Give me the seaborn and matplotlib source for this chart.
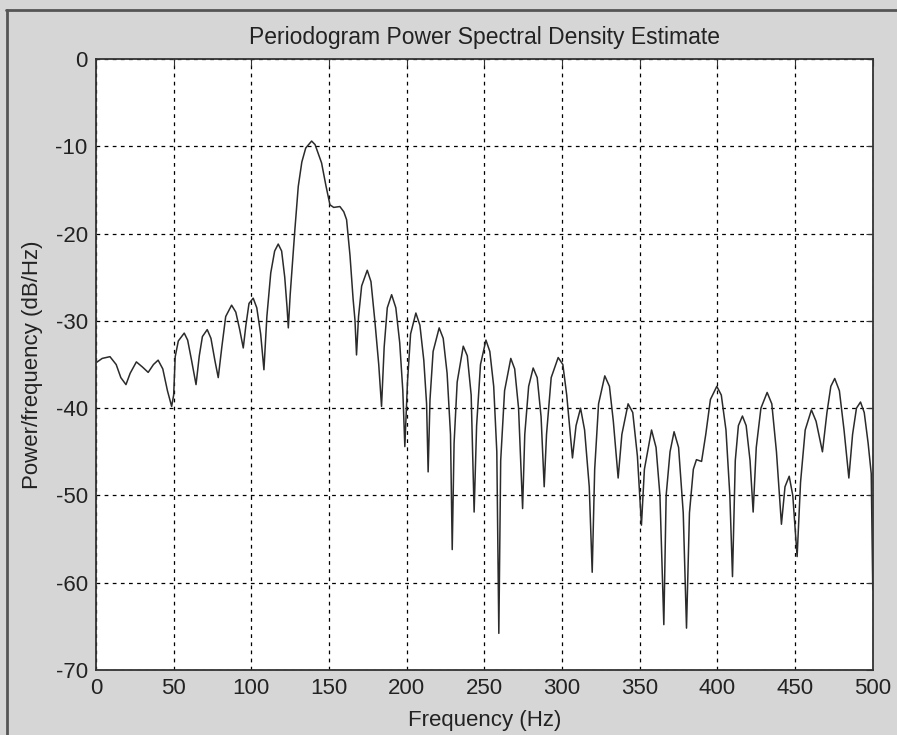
import matplotlib
matplotlib.use("Agg")
import matplotlib.pyplot as plt
import seaborn as sns
import pandas as pd
from matplotlib.lines import Line2D

# values
freq = [0, 4, 9, 13, 16, 19.3, 22, 26, 30, 33.6, 37, 40, 43, 46, 48.7, 50, 51, 53, 56.8, 59,
        61.5, 64.4, 66.5, 68.5, 71.6, 74, 76.5, 78.7, 81, 83.5, 87.3, 90, 92.5, 94.8, 96.5, 98.5,
        101.2, 103.5, 106, 108.1, 110, 112.5, 115, 117.3, 119.5, 121.5, 123, 123.8, 125, 127, 128,
        130.2, 132.5, 135, 138.8, 141, 143, 145.2, 148, 150.6, 153, 157, 159.5, 161.3, 163.5, 165.5,
        166.7, 167.7, 169, 171, 174.6, 177, 179.5, 182, 183.8, 185.5, 187.5, 190.3, 193, 195.5,
        197.5, 198.8, 200.5, 202.5, 205.9, 208.5, 211, 212.8, 213.8, 215, 217, 220.9, 223.5, 226,
        228.2, 229.3, 230.5, 232.5, 236.4, 239, 241.5, 243.4, 245, 247.5, 251, 253.5, 256, 258,
        259.3, 260.5, 263, 267, 269.5, 272, 274.6, 276, 278.5, 281.4, 284, 286.5, 288.5, 290, 293,
        297.5, 300.5, 303, 306.7, 309, 311.9, 314.5, 317.5, 319.4, 321, 323.5, 327.5, 330.5, 333,
        336.1, 338.5, 342.5, 345.5, 348.5, 351.1, 353, 357.6, 360.5, 363, 365.5, 367, 369.5, 372.1,
        375, 378, 380.1, 382, 384.5, 386.5, 389.8, 392.5, 395.5, 399.6, 402.5, 405.5, 408, 409.7,
        411.5, 413.5, 416.1, 418.5, 421, 423, 425, 428, 432, 435, 438, 441.2, 443.5, 446.2, 448.5,
        451.3, 453.5, 456.5, 460.5, 463.5, 467.6, 470.5, 473, 475.5, 478.5, 481.5, 484.6, 487,
        489.5, 492.1, 494.5, 497, 499, 500]
power_db = [-34.8, -34.3, -34.1, -35.0, -36.5, -37.3, -36.0, -34.7, -35.3, -35.9, -35.0, -34.5,
            -35.5, -38.0, -39.8, -38.5, -34.1, -32.3, -31.4, -32.2, -34.5, -37.3, -34.0, -31.8,
            -31.0, -32.0, -34.5, -36.5, -33.0, -29.5, -28.2, -29.0, -31.0, -33.1, -30.5, -28.0,
            -27.4, -28.5, -31.5, -35.6, -29.5, -24.5, -22.0, -21.2, -22.0, -25.0, -28.5, -30.8,
            -27.0, -22.0, -19.6, -14.6, -11.8, -10.2, -9.4, -9.8, -10.8, -11.9, -14.5, -16.7,
            -17.0, -16.9, -17.5, -18.4, -22.5, -27.5, -29.9, -33.9, -29.5, -26.0, -24.2, -25.5,
            -30.0, -35.0, -39.8, -33.0, -28.5, -27.0, -28.5, -32.5, -38.0, -44.4, -37.0, -31.5,
            -29.1, -30.5, -34.5, -39.5, -47.3, -39.0, -33.5, -30.8, -32.0, -36.0, -43.0, -56.2,
            -44.0, -37.0, -32.9, -34.0, -38.5, -51.9, -42.0, -35.0, -32.2, -33.5, -37.5, -45.0,
            -65.8, -46.0, -38.0, -34.3, -35.5, -40.0, -51.5, -43.0, -37.5, -35.4, -36.5, -41.0,
            -49.0, -43.0, -36.5, -34.2, -35.0, -38.5, -45.7, -42.0, -40.0, -42.5, -49.0, -58.8,
            -47.0, -39.5, -36.3, -37.5, -41.5, -48.0, -43.0, -39.5, -40.5, -45.5, -53.4, -47.0,
            -42.5, -44.5, -50.0, -64.8, -50.0, -45.0, -42.7, -44.5, -52.0, -65.2, -52.0, -47.0,
            -45.9, -46.1, -43.0, -39.0, -37.5, -38.5, -42.5, -50.0, -59.3, -46.0, -42.0, -40.9,
            -42.0, -46.0, -51.9, -44.5, -40.0, -38.2, -39.5, -45.0, -53.3, -49.0, -47.8, -50.0,
            -57.0, -48.5, -42.5, -40.2, -41.5, -45.0, -40.5, -37.5, -36.6, -38.0, -42.5, -48.0,
            -43.0, -40.0, -39.3, -40.5, -44.0, -47.5, -60.8]

x_ticks = [0, 50, 100, 150, 200, 250, 300, 350, 400, 450, 500]
y_ticks = [0, -10, -20, -30, -40, -50, -60, -70]

df = pd.DataFrame({"Frequency": freq, "Power": power_db})

sns.set_style("white")
plt.rcParams['font.family'] = ['Liberation Sans', 'DejaVu Sans']
plt.rcParams['axes.unicode_minus'] = False

bg = '#d6d6d6'
fig = plt.figure(figsize=(8.97, 7.35), dpi=100, facecolor=bg)
ax = fig.add_axes([0.107, 0.0884, 0.866, 0.8313])

sns.lineplot(data=df, x="Frequency", y="Power", ax=ax, color='#2b2b2b', lw=1.1, sort=False)

ax.set_xlim(0, 500)
ax.set_ylim(-70, 0)
ax.set_xticks(x_ticks)
ax.set_yticks(y_ticks)
ax.grid(True, color='black', linestyle=(0, (3, 3.5)), lw=0.9)
ax.tick_params(direction='in', length=5, width=0.8, colors='#333333', labelsize=16,
               top=True, right=True, pad=6)
for lab in ax.get_xticklabels() + ax.get_yticklabels():
    lab.set_color('#222222')
for s in ax.spines.values():
    s.set_color('#333333')
    s.set_linewidth(1.3)

ax.set_title('Periodogram Power Spectral Density Estimate', fontsize=16.5, color='#222222', pad=11)
ax.set_xlabel('Frequency (Hz)', fontsize=16, color='#222222', labelpad=8)
ax.set_ylabel('Power/frequency (dB/Hz)', fontsize=16, color='#222222', labelpad=9)

# window frame of the screenshot
fig.add_artist(Line2D([0.007, 1.0], [0.987, 0.987], transform=fig.transFigure, color='#555555', lw=2))
fig.add_artist(Line2D([0.008, 0.008], [0.0, 0.987], transform=fig.transFigure, color='#555555', lw=2))

fig.savefig('out.png', dpi=100, facecolor=bg)
